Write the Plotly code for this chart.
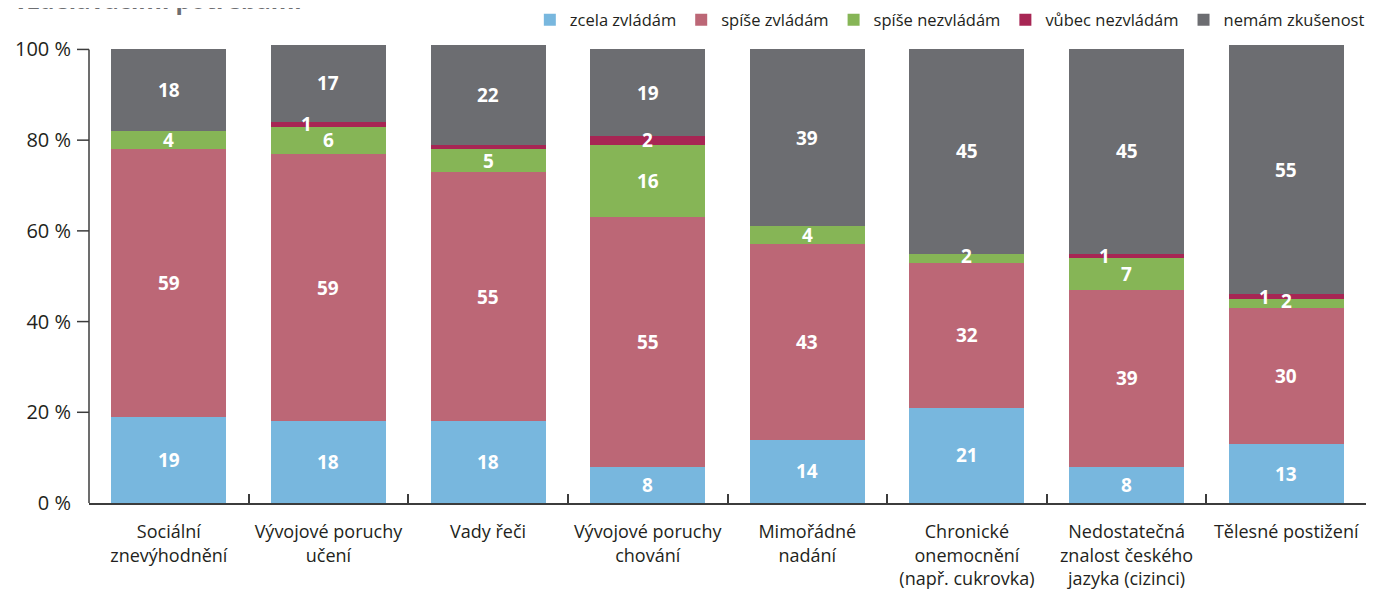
import plotly.graph_objects as go

categories = [
    "Sociální<br>znevýhodnění",
    "Vývojové poruchy<br>učení",
    "Vady řeči",
    "Vývojové poruchy<br>chování",
    "Mimořádné<br>nadání",
    "Chronické<br>onemocnění<br>(např. cukrovka)",
    "Nedostatečná<br>znalost českého<br>jazyka (cizinci)",
    "Tělesné postižení",
]
series_names = ["zcela zvládám", "spíše zvládám", "spíše nezvládám", "vůbec nezvládám", "nemám zkušenost"]
zcela = [19, 18, 18, 8, 14, 21, 8, 13]
spise = [59, 59, 55, 55, 43, 32, 39, 30]
spise_nez = [4, 6, 5, 16, 4, 2, 7, 2]
vubec = [0, 1, 1, 2, 0, 0, 1, 1]
nemam = [18, 17, 22, 19, 39, 45, 45, 55]
vubec_text = ["", "1", "", "2", "", "", "1", "1"]
ytick_vals = [0, 20, 40, 60, 80, 100]
ytick_text = ["0 %", "20 %", "40 %", "60 %", "80 %", "100 %"]

colors = ["#78b7de", "#bc6776", "#86b556", "#a72654", "#6c6d71"]
series = [zcela, spise, spise_nez, vubec, nemam]

fig = go.Figure()
for name, vals, col in zip(series_names, series, colors):
    fig.add_trace(go.Bar(
        x=categories, y=vals, name=name, marker=dict(color=col, line=dict(width=0)),
        width=0.72, hoverinfo="y+name",
    ))

# labels
ann = []
label_font = dict(family="Open Sans", size=19, color="white")
for i, cat in enumerate(categories):
    base = 0
    for s_idx, vals in enumerate(series):
        v = vals[i]
        mid = base + v / 2
        if s_idx == 3:
            txt = vubec_text[i]
            xshift = -22 if txt == "1" else 0
        else:
            txt = str(v) if v > 0 else ""
            xshift = 0
        yshift = 0
        if s_idx == 2 and v <= 2:
            yshift = 2
        if txt:
            ann.append(dict(x=cat, y=mid, xref="x", yref="y", text="<b>%s</b>" % txt,
                            showarrow=False, font=label_font, xshift=xshift, yshift=yshift))
        base += v

# cut-off title at the very top
ann.append(dict(x=-0.0603, y=1.0565, xref="paper", yref="paper", xanchor="left", yanchor="bottom",
                text="<b>vzdělávacími potřebami</b>", showarrow=False,
                font=dict(family="Open Sans", size=24, color="#6d6e71")))

shapes = [dict(type="line", xref="paper", yref="y", x0=0, x1=0, y0=0, y1=100,
               line=dict(color="#3c3c3c", width=1.5))]
for t in ytick_vals[1:]:
    shapes.append(dict(type="line", xref="paper", yref="y", x0=-12 / 1277, x1=0, y0=t, y1=t,
                       line=dict(color="#3c3c3c", width=1.5)))

fig.update_layout(
    width=1378, height=585,
    margin=dict(l=81, r=20, t=36, b=90, autoexpand=False),
    barmode="stack",
    plot_bgcolor="white", paper_bgcolor="white",
    font=dict(family="Open Sans", size=17, color="#231f20"),
    annotations=ann,
    shapes=shapes,
    legend=dict(orientation="h", x=1.003, xanchor="right", y=1.052, yanchor="middle",
                font=dict(size=16.5, color="#231f20"), traceorder="normal",
                itemwidth=30, tracegroupgap=0, bgcolor="rgba(0,0,0,0)"),
    bargap=0.28,
)
fig.update_yaxes(range=[0, 101.2], tickvals=ytick_vals, ticktext=ytick_text, showgrid=False,
                 zeroline=False, showline=False, ticks="", ticklabelstandoff=17,
                 tickfont=dict(size=20), automargin=False)
fig.update_xaxes(showline=True, linecolor="#3c3c3c", linewidth=1.5, ticks="inside",
                 tickson="boundaries", ticklen=9, tickcolor="#3c3c3c", tickwidth=1.5,
                 showgrid=False, tickfont=dict(size=18), ticklabelstandoff=12, automargin=False)

fig.write_html("out.html")
